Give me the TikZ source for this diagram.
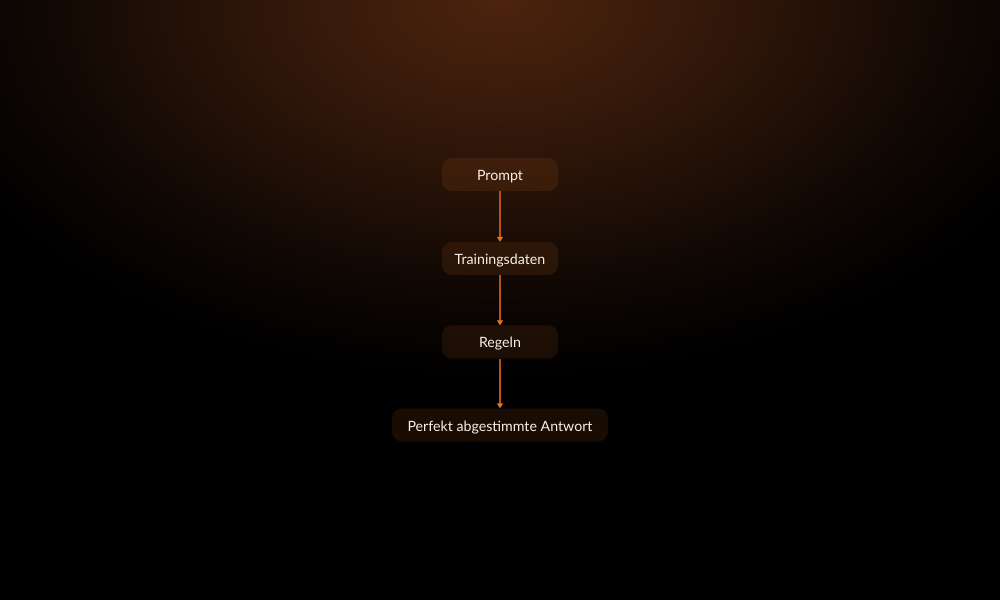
\documentclass[tikz,border=0pt]{standalone}
\usepackage{fontspec}
\setmainfont{Lato}
\usetikzlibrary{arrows.meta}
\definecolor{g0}{HTML}{4C230E}
\definecolor{g1}{HTML}{3E1D0C}
\definecolor{g2}{HTML}{2E1609}
\definecolor{g3}{HTML}{1D0E06}
\definecolor{g4}{HTML}{0C0603}
\definecolor{boxfill}{HTML}{E0701E}
\definecolor{txt}{HTML}{F7F0EA}
\definecolor{linec}{HTML}{B8521A}
\definecolor{tipc}{HTML}{E8731F}
\pgfdeclareradialshading{glow}{\pgfpoint{0bp}{0bp}}{color(0bp)=(g0); color(5bp)=(g1); color(10bp)=(g2); color(15bp)=(g3); color(20bp)=(g4); color(25bp)=(black); color(50bp)=(black)}
\begin{document}
\begin{tikzpicture}[x=1pt,y=1pt,
  box/.style={rectangle, rounded corners=10pt, fill=boxfill, fill opacity=0.11, text opacity=1, text=txt, minimum height=33pt, inner sep=0pt, text height=12.5pt, text depth=0.5pt, font=\fontsize{14.2}{17}\selectfont},
  flow/.style={draw=linec, line width=1.3pt, -{Triangle[width=6pt,length=5pt,color=tipc]}}]
\useasboundingbox (0,0) rectangle (1000,600);
\fill[black] (0,0) rectangle (1000,600);
\begin{scope}
\clip (0,0) rectangle (1000,600);
\shade[shading=glow] (-110,220) rectangle (1110,980);
\end{scope}
\node[box, minimum width=116pt] (p) at (500,425.5) {Prompt};
\node[box, minimum width=116pt] (t) at (500,341.5) {Trainingsdaten};
\node[box, minimum width=116pt] (r) at (500,258) {Regeln};
\node[box, minimum width=216pt] (a) at (500,175) {Perfekt abgestimmte Antwort};
\draw[flow] (p.south) -- (t.north);
\draw[flow] (t.south) -- (r.north);
\draw[flow] (r.south) -- (a.north);
\end{tikzpicture}
\end{document}
